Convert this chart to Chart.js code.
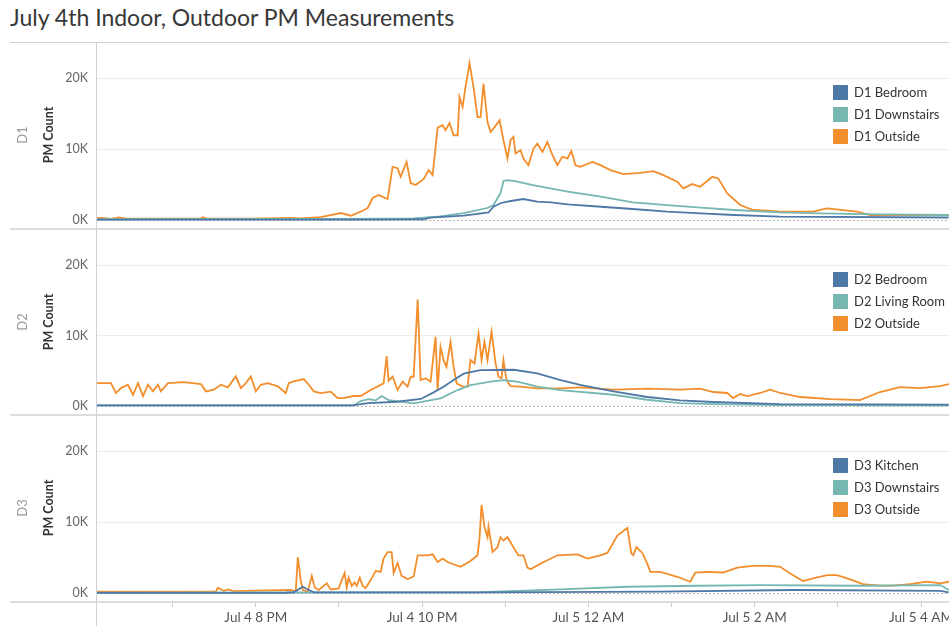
<!DOCTYPE html>
<html>
<head>
<meta charset="utf-8">
<script src="https://cdn.jsdelivr.net/npm/chart.js@4.4.0/dist/chart.umd.min.js"></script>
<style>
  body { margin: 0; background: #fff; font-family: Lato, "Open Sans", sans-serif; }
  #wrap { position: relative; width: 949px; height: 626px; overflow: hidden; }
  .title { position: absolute; left: 10px; top: 3px; font-size: 23px; color: #383838; white-space: nowrap; }
  .hl { position: absolute; left: 10px; width: 939px; background: #dcdcdc; z-index: 2; }
  .vl { position: absolute; left: 96px; width: 1px; top: 43px; height: 583px; background: #d0d0d0; z-index: 2; }
  .panel { position: absolute; left: 0; width: 949px; }
  .rot { position: absolute; white-space: nowrap; transform: translate(-50%, -50%) rotate(-90deg); font-size: 12.5px; }
  .row { color: #999; font-size: 13px; }
  .axt { color: #333; font-weight: bold; }
  .legend { position: absolute; left: 833px; font-size: 13px; color: #333; z-index: 3; }
  .legend div { height: 22px; line-height: 22px; white-space: nowrap; }
  .legend span { display: inline-block; width: 15px; height: 15px; vertical-align: -3px; margin-right: 6px; }
</style>
</head>
<body>
<div id="wrap">
  <div class="title">July 4th Indoor, Outdoor PM Measurements</div>
</div>
<script>
// x values are minutes after Jul 4 6 PM, y values are PM counts
const xMin = 5.4, xMax = 620.2;
const xTicks = [60, 120, 180, 240, 300, 360, 420, 480, 540, 600];
const xLabels = { 120: 'Jul 4 8 PM', 240: 'Jul 4 10 PM', 360: 'Jul 5 12 AM', 480: 'Jul 5 2 AM', 600: 'Jul 5 4 AM' };
const yTicks = [0, 10000, 20000];
const rowNames = ['D1', 'D2', 'D3'];
const seriesNames = [
  ['D1 Bedroom', 'D1 Downstairs', 'D1 Outside'],
  ['D2 Bedroom', 'D2 Living Room', 'D2 Outside'],
  ['D3 Kitchen', 'D3 Downstairs', 'D3 Outside']
];
const colors = ['#4e79a7', '#76b7b2', '#f28e2b'];

const d1Bedroom = [[5,50],[210,60],[241,100],[246,330],[270,610],[288,1080],[291.5,1870],[297,2400],[304,2680],[313,2960],[323,2580],[333,2500],[345,2210],[369,1870],[392,1550],[417,1170],[441,940],[465,700],[498,470],[620,350]];
const d1Downstairs = [[5,100],[174,150],[210,200],[234,240],[253,500],[270,980],[287,1690],[291.5,2110],[296.6,3800],[298.7,5490],[301.6,5630],[307,5500],[320,4930],[345,3990],[369,3290],[392,2490],[417,2110],[441,1740],[465,1410],[498,1080],[527,940],[570,800],[620,700]];
const d1Outside = [[5.4,250],[8.3,300],[15.5,150],[21.3,350],[26.3,200],[44.3,180],[80.4,200],[81.8,400],[84.7,200],[116.4,200],[145.2,300],[152.4,240],[166.8,400],[181.3,980],[188.5,600],[195.7,1170],[200.7,1690],[204.3,3100],[208.6,3520],[215.1,2960],[218.7,7500],[222.3,7320],[224.5,6100],[228.8,8200],[231.7,5200],[235.3,4930],[241.1,5770],[244.7,7040],[247.6,6340],[251.2,13050],[254.8,13380],[256.9,12670],[259.8,13700],[262.7,11970],[265.6,11970],[267,17360],[269.2,15960],[271.3,18770],[274.2,22150],[277.1,18770],[280,14540],[282.2,14540],[284.3,19240],[287.2,13840],[289.4,12430],[291.5,12900],[295.9,14080],[298.7,11260],[301.6,8690],[303.8,11260],[305.9,11730],[307.4,9390],[311,9860],[313.1,8690],[316.7,7740],[320.4,10090],[323.2,10800],[326.8,9620],[330.4,11030],[334.1,9150],[337.6,7740],[341.2,8920],[344.9,8690],[347.7,9760],[350.6,7740],[354.2,7500],[362.9,8210],[368.6,7740],[375.9,7040],[385.2,6480],[397.5,6660],[406.8,6900],[414.1,6340],[424.1,5400],[428.5,4460],[434.9,5070],[440.7,4690],[449.4,6100],[453.7,5870],[460.2,3760],[469.5,2110],[478.9,1410],[489,1310],[498.4,1170],[522.1,1170],[532.2,1640],[553.9,1170],[563.2,700],[620.2,700]];

const d2Bedroom = [[5,100],[190,100],[201,425],[222,610],[239,1000],[248,1900],[255.5,2740],[262.7,3690],[270,4600],[282,5100],[306,5150],[323,4630],[340,3690],[354,3020],[378,2080],[402.5,1280],[426,810],[450,570],[498,280],[620,200]];
const d2LivingRoom = [[5,80],[190.5,80],[195.7,700],[201.4,990],[206.5,800],[210.8,1420],[215.8,850],[221.6,700],[233.9,380],[253.3,1090],[265.6,2270],[274.9,2980],[289.4,3450],[298.7,3680],[308.8,3450],[323.2,2740],[339.8,2270],[378,1600],[402.5,890],[426.3,425],[450.1,280],[498.4,140],[620.2,100]];
const d2Outside = [[5.4,3260],[15.5,3260],[19.1,1840],[22.7,2550],[27.7,3020],[31.4,1600],[35,3260],[38.6,1420],[42.2,3020],[45.8,2080],[49.4,3020],[51.5,2080],[56.6,3260],[68.1,3400],[80.4,3120],[84,2080],[89.7,2320],[94.8,3020],[99.8,2650],[105.6,4210],[109.2,2550],[112.8,3260],[116.4,4210],[120,2080],[123.6,3020],[128.6,3260],[135.9,2790],[141.6,1840],[143.8,3260],[147.4,3500],[154.6,3830],[158.2,3020],[161.8,2080],[166.8,1840],[174.1,2030],[179.1,1130],[183.4,1130],[190.6,1420],[195.7,1420],[202.9,2270],[212.2,3220],[214.4,7090],[215.8,3600],[218.7,4160],[222.3,2270],[225.9,3460],[229.5,2750],[231.7,4160],[233.9,4160],[236.8,15130],[238.9,3690],[242.5,3930],[246.1,3460],[249.7,9830],[251.2,2270],[253.3,8410],[255.5,6520],[257.6,5580],[260.5,9120],[262.7,5580],[264.9,3220],[269.2,2750],[272.8,2750],[274.9,6520],[277.8,6050],[280.7,10300],[282.9,6520],[285,9120],[287.2,6520],[290.1,10540],[293,6050],[295.1,4160],[297.3,3930],[298.7,6520],[300.9,3690],[303.8,2840],[311,2750],[323.2,2510],[339.8,2510],[354.2,2650],[378,2320],[402.5,2460],[426.3,2320],[440.7,2460],[450.1,1990],[460.2,1850],[464.5,1130],[469.5,1700],[474.6,1420],[484,1850],[491.1,2320],[498.4,1850],[512.8,1280],[534.4,990],[556,850],[570.4,1990],[584.9,2690],[599.3,2550],[613.7,2840],[620.2,3120]];

const d3Kitchen = [[5,20],[141.6,30],[147.4,100],[153.9,880],[157.5,500],[161.8,80],[282,80],[412,180],[508,420],[614,300],[620,100]];
const d3Downstairs = [[5,30],[282,100],[340,520],[388,880],[438,1020],[484,1120],[556,1020],[614,1120],[620,420]];
const d3Outside = [[5.4,180],[91.2,200],[92.6,740],[96.9,280],[99.8,500],[104.1,250],[145.2,420],[148.8,180],[150.3,5080],[152.4,1820],[153.9,420],[157.5,180],[160.4,2420],[162.5,770],[165.4,420],[171.2,1360],[174.1,490],[179.8,630],[182,1820],[184.1,2840],[185.6,770],[187,2170],[189.2,1000],[191.3,1490],[192.8,1000],[195,2170],[197.1,1000],[199.3,700],[202.9,1820],[206.5,3120],[210.1,2980],[212.2,4850],[215.1,5780],[218,5780],[219.5,2840],[222.3,4240],[225.2,2410],[229.5,1960],[233.9,2330],[236.8,5320],[244,5320],[247.6,5460],[251.2,4380],[254.8,4850],[258.4,4380],[267.7,3690],[274.9,4530],[280,5320],[281.4,7650],[282.9,12460],[285,9280],[287.2,7880],[287.9,9370],[290.8,5800],[294.4,6460],[296.6,7880],[298.7,7410],[301.6,7880],[305.9,6460],[309.5,5320],[313.1,5320],[316,3590],[318.2,3360],[325.4,4150],[330.4,4620],[337.6,5320],[352.1,5460],[359.3,4850],[368.6,5320],[373.7,5650],[380.9,8120],[388.1,9190],[391,5560],[392.4,5320],[394.6,6480],[398.9,5650],[402.5,4150],[404.7,2980],[411.9,2980],[424.1,2290],[433.5,1590],[437.1,2890],[445.7,2980],[457.3,2890],[467.4,3590],[478.9,3830],[491.2,3830],[498.4,3690],[505.6,2750],[514.9,1680],[522.1,2060],[532.2,2520],[539.4,2520],[546.7,2060],[558.2,1260],[570.4,1030],[579.8,1030],[592.1,1260],[604.3,1590],[613.7,1360],[620.2,1590]];

const panelData = [
  [d1Bedroom, d1Downstairs, d1Outside],
  [d2Bedroom, d2LivingRoom, d2Outside],
  [d3Kitchen, d3Downstairs, d3Outside]
];

(function(){
  const wrap = document.getElementById('wrap');
  const tops = [43, 230, 416];
  const heights = [186, 185, 210];
  const centers = [135, 322, 508];
  const legendTops = [81, 268, 454];

  function el(html){ const d = document.createElement('div'); d.innerHTML = html; return d.firstElementChild; }

  // frame lines
  wrap.appendChild(el('<div class="hl" style="top:42px;height:1px;background:#d0d0d0"></div>'));
  [228, 414, 601].forEach(t => wrap.appendChild(el('<div class="hl" style="top:' + t + 'px;height:2px"></div>')));
  wrap.appendChild(el('<div class="vl"></div>'));

  const zeroLine = {
    id: 'zeroLine',
    beforeDatasetsDraw(chart){
      const y = chart.scales.y.getPixelForValue(0);
      const a = chart.chartArea;
      const c = chart.ctx;
      c.save();
      c.strokeStyle = '#b5b5b5';
      c.lineWidth = 1;
      c.setLineDash([2, 2]);
      c.beginPath();
      c.moveTo(a.left, Math.round(y) + 0.5);
      c.lineTo(a.right, Math.round(y) + 0.5);
      c.stroke();
      c.restore();
    }
  };

  panelData.forEach((series, i) => {
    const last = i === 2;
    const box = el('<div class="panel" style="top:' + tops[i] + 'px;height:' + heights[i] + 'px"></div>');
    const canvas = document.createElement('canvas');
    canvas.width = 949; canvas.height = heights[i];
    box.appendChild(canvas);
    wrap.appendChild(box);

    wrap.appendChild(el('<div class="rot row" style="left:22px;top:' + centers[i] + 'px">' + rowNames[i] + '</div>'));
    wrap.appendChild(el('<div class="rot axt" style="left:48px;top:' + centers[i] + 'px">PM Count</div>'));

    const leg = el('<div class="legend" style="top:' + legendTops[i] + 'px"></div>');
    seriesNames[i].forEach((n, k) => {
      leg.appendChild(el('<div><span style="background:' + colors[k] + '"></span>' + n + '</div>'));
    });
    wrap.appendChild(leg);

    new Chart(canvas, {
      type: 'line',
      data: {
        datasets: series.map((pts, k) => ({
          label: seriesNames[i][k],
          data: pts.map(p => ({ x: p[0], y: p[1] })),
          borderColor: colors[k],
          borderWidth: 1.8,
          pointRadius: 0,
          tension: 0,
          fill: false
        }))
      },
      options: {
        responsive: false,
        animation: false,
        devicePixelRatio: 1,
        layout: { padding: 0 },
        plugins: { legend: { display: false }, tooltip: { enabled: false } },
        scales: {
          x: {
            type: 'linear', min: xMin, max: xMax, display: last,
            afterBuildTicks: s => { s.ticks = xTicks.map(v => ({ value: v })); },
            afterFit: s => { s.height = last ? 24 : 0; s.paddingLeft = 0; s.paddingRight = 0; },
            grid: { drawOnChartArea: false, drawTicks: true, tickLength: 5, color: '#cccccc' },
            border: { display: false },
            ticks: {
              autoSkip: false, maxRotation: 0, padding: 3,
              color: '#555', font: { family: 'Lato', size: 13.5 },
              callback: v => xLabels[v] || ''
            }
          },
          y: {
            min: -1275, max: 25000,
            afterBuildTicks: s => { s.ticks = yTicks.map(v => ({ value: v })); },
            afterFit: s => { s.width = 97; s.paddingTop = 0; s.paddingBottom = 0; },
            grid: { drawTicks: false, color: c => c.tick && c.tick.value === 0 ? 'rgba(0,0,0,0)' : '#ececec' },
            border: { display: false },
            ticks: {
              padding: 9, color: '#666', font: { family: 'Lato', size: 12.5 },
              callback: v => (v / 1000) + 'K'
            }
          }
        }
      },
      plugins: [zeroLine]
    });
  });
})();
</script>
</body>
</html>
